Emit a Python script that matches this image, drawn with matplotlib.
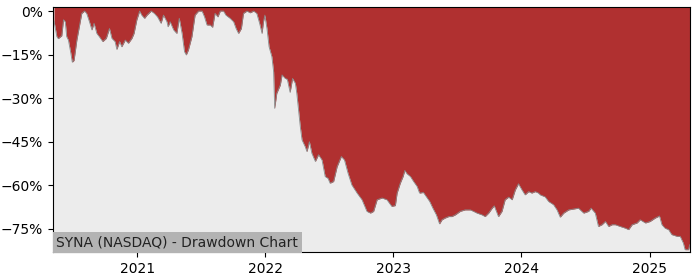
import matplotlib
matplotlib.use("Agg")
import matplotlib.pyplot as plt
import matplotlib.dates as mdates
import pandas as pd

dates = [
    "2020-05-09", "2020-05-17", "2020-05-21", "2020-05-31", "2020-06-05", "2020-06-10",
    "2020-06-14", "2020-06-19", "2020-06-26", "2020-06-30", "2020-07-05", "2020-07-13",
    "2020-07-20", "2020-07-27", "2020-08-04", "2020-08-10", "2020-08-18", "2020-08-25",
    "2020-08-31", "2020-09-08", "2020-09-15", "2020-09-25", "2020-10-05", "2020-10-14",
    "2020-10-21", "2020-10-30", "2020-11-04", "2020-11-12", "2020-11-18", "2020-11-28",
    "2020-12-07", "2020-12-17", "2020-12-23", "2020-12-31",
    "2021-01-08", "2021-01-14", "2021-01-22", "2021-01-29", "2021-02-10", "2021-02-19",
    "2021-02-28", "2021-03-10", "2021-03-17", "2021-03-27", "2021-03-30", "2021-04-05",
    "2021-04-15", "2021-04-24", "2021-05-01", "2021-05-09", "2021-05-16", "2021-05-21",
    "2021-05-27", "2021-06-06", "2021-06-15", "2021-06-25", "2021-07-05", "2021-07-12",
    "2021-07-19", "2021-07-28", "2021-08-04", "2021-08-11", "2021-08-19", "2021-08-26",
    "2021-09-04", "2021-09-11", "2021-09-23", "2021-10-03", "2021-10-10", "2021-10-17",
    "2021-10-25", "2021-10-31", "2021-11-10", "2021-11-19", "2021-11-29", "2021-12-08",
    "2021-12-16", "2021-12-23", "2021-12-27", "2021-12-31",
    "2022-01-06", "2022-01-12", "2022-01-20", "2022-01-25", "2022-01-28", "2022-02-03",
    "2022-02-13", "2022-02-18", "2022-02-27", "2022-03-05", "2022-03-13", "2022-03-20",
    "2022-03-28", "2022-04-01", "2022-04-11", "2022-04-16", "2022-04-25", "2022-04-30",
    "2022-05-07", "2022-05-14", "2022-05-24", "2022-06-02", "2022-06-12", "2022-06-21",
    "2022-06-29", "2022-07-05", "2022-07-15", "2022-07-25", "2022-08-06", "2022-08-15",
    "2022-08-25", "2022-09-05", "2022-09-20", "2022-10-04", "2022-10-18", "2022-10-28",
    "2022-11-06", "2022-11-16", "2022-11-30", "2022-12-14", "2022-12-28",
    "2023-01-07", "2023-01-12", "2023-01-21", "2023-01-29", "2023-02-03", "2023-02-09",
    "2023-02-19", "2023-02-28", "2023-03-10", "2023-03-17", "2023-03-28", "2023-04-05",
    "2023-04-15", "2023-04-24", "2023-05-04", "2023-05-13", "2023-05-20", "2023-05-29",
    "2023-06-08", "2023-06-17", "2023-06-27", "2023-07-11", "2023-07-25", "2023-08-09",
    "2023-08-18", "2023-08-28", "2023-09-11", "2023-09-20", "2023-09-30", "2023-10-10",
    "2023-10-16", "2023-10-24", "2023-10-28", "2023-11-07", "2023-11-16", "2023-11-26",
    "2023-12-06", "2023-12-15", "2023-12-24",
    "2024-01-03", "2024-01-12", "2024-01-22", "2024-01-31", "2024-02-10", "2024-02-19",
    "2024-02-24", "2024-03-09", "2024-03-19", "2024-04-02", "2024-04-12", "2024-04-21",
    "2024-05-01", "2024-05-15", "2024-05-29", "2024-06-12", "2024-06-27", "2024-07-11",
    "2024-07-18", "2024-07-30", "2024-08-08", "2024-08-18", "2024-08-28", "2024-09-06",
    "2024-09-16", "2024-09-25", "2024-10-09", "2024-10-24", "2024-11-02", "2024-11-12",
    "2024-11-26", "2024-12-05", "2024-12-20",
    "2025-01-02", "2025-01-17", "2025-01-29", "2025-02-05", "2025-02-14", "2025-02-24",
    "2025-03-05", "2025-03-20", "2025-03-29", "2025-04-07", "2025-04-12", "2025-04-22",
    "2025-04-25",
]

drawdown = [
    -3.5, -8.8, -9.5, -8.5, -3.0, -3.7,
    -8.8, -10.0, -14.6, -17.6, -17.0, -10.0,
    -5.4, -0.8, 0.0, -0.8, -3.7, -6.5,
    -4.2, -7.7, -8.8, -10.5, -9.4, -6.0,
    -9.4, -10.5, -13.2, -10.5, -12.3, -10.0,
    -11.1, -9.4, -7.7, -3.0,
    0.0, -1.4, -2.5, -1.4, 0.0, -0.8,
    -2.0, -4.2, -1.4, -3.7, -5.4, -3.7,
    -6.5, -7.7, -2.5, -7.7, -14.0, -15.1,
    -13.4, -8.8, -1.4, 0.0, 0.0, -2.0,
    -4.8, -4.8, -5.6, -0.8, -2.0, 0.0,
    0.0, -1.4, -2.5, -3.7, -6.0, -7.7,
    -6.0, -0.8, 0.0, -0.6, 0.0, -0.8,
    -4.2, -7.7, -3.7, -1.4,
    -6.0, -12.3, -15.7, -20.9, -33.5, -28.3,
    -25.5, -22.0, -23.2, -23.5, -28.0, -23.2,
    -24.9, -28.3, -39.8, -44.4, -46.7, -48.4,
    -45.0, -49.0, -51.8, -49.5, -51.3, -57.0,
    -57.6, -59.3, -58.7, -53.6, -50.1, -51.3,
    -55.8, -59.9, -62.7, -65.0, -69.0, -69.6,
    -69.0, -65.0, -64.4, -65.0, -67.3,
    -67.0, -62.7, -59.3, -57.0, -54.9, -56.0,
    -57.0, -58.7, -60.4, -62.7, -62.5, -63.9,
    -65.6, -67.9, -70.2, -73.3, -71.9, -71.3,
    -70.8, -70.8, -70.2, -69.0, -68.5, -68.5,
    -69.0, -69.6, -70.2, -70.8, -69.6, -67.9,
    -67.1, -69.6, -70.8, -69.0, -65.0, -64.1,
    -65.0, -61.6, -59.5,
    -61.6, -63.3, -62.2, -62.7, -62.2, -62.7,
    -63.3, -64.0, -65.6, -66.7, -68.5, -71.0,
    -69.6, -68.5, -68.2, -67.9, -69.6, -69.0,
    -67.9, -69.6, -74.2, -73.6, -72.5, -74.2,
    -73.6, -73.6, -74.2, -74.8, -75.3, -73.6,
    -73.0, -71.9, -73.0,
    -72.5, -71.3, -70.6, -73.6, -74.8, -75.3,
    -77.0, -77.6, -77.6, -79.9, -82.2, -82.2,
    -80.5,
]

y_ticks = [0, -15, -30, -45, -60, -75]
y_tick_labels = ["0%", "\u221215%", "\u221230%", "\u221245%", "\u221260%", "\u221275%"]
title_text = "SYNA (NASDAQ) - Drawdown Chart"

x = pd.to_datetime(dates)
y_top = 1.4
y_bottom = -83

fig = plt.figure(figsize=(7, 2.8), dpi=100)
ax = fig.add_axes([0.0757, 0.1, 0.91, 0.875])
ax.set_facecolor("#ececec")

ax.fill_between(x, drawdown, y_top + 1, color="#b03030", linewidth=0)
ax.plot(x, drawdown, color="#8a8a8a", linewidth=0.6)

ax.set_xlim(x[0] - pd.Timedelta(days=3), x[-1] + pd.Timedelta(days=1))
ax.set_ylim(y_bottom, y_top)
ax.set_yticks(y_ticks)
ax.set_yticklabels(y_tick_labels)
ax.xaxis.set_major_locator(mdates.YearLocator())
ax.xaxis.set_major_formatter(mdates.DateFormatter("%Y"))
ax.tick_params(labelsize=10)

ax.text(0.005, 0.012, title_text, transform=ax.transAxes, fontsize=10,
        ha="left", va="bottom", color="#222222",
        bbox=dict(facecolor="#b3b3b3", edgecolor="none", pad=2.5))

fig.savefig("out.png", dpi=100)
